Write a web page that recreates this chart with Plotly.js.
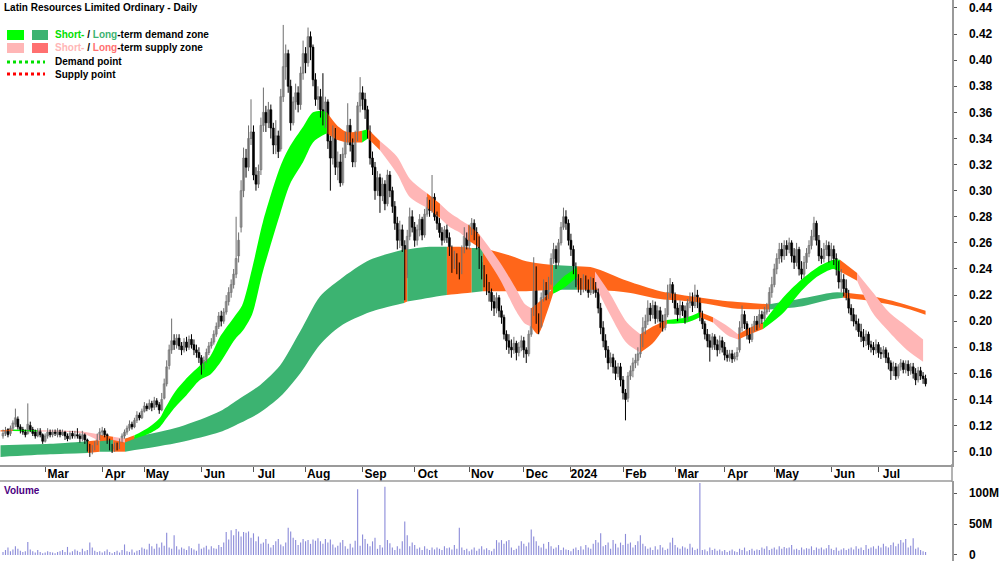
<!DOCTYPE html>
<html><head><meta charset="utf-8">
<script src="https://cdn.plot.ly/plotly-3.0.1.min.js"></script>
<style>html,body{margin:0;padding:0;background:#fff}#chart{width:1000px;height:562px}</style>
</head><body><div id="chart"></div>
<script>
// ---- daily prices (AUD), Feb 2023 .. Jul 2024 ----
const openP=[0.112,0.114,0.117,0.114,0.118,0.121,0.125,0.119,0.117,0.115,
0.114,0.120,0.117,0.115,0.112,0.116,0.113,0.108,0.112,0.115,
0.113,0.115,0.113,0.116,0.113,0.115,0.112,0.110,0.114,0.112,
0.113,0.112,0.110,0.113,0.109,0.104,0.100,0.102,0.106,0.111,
0.115,0.116,0.113,0.108,0.104,0.102,0.105,0.103,0.108,0.112,
0.115,0.118,0.121,0.119,0.124,0.128,0.126,0.131,0.135,0.133,
0.137,0.134,0.139,0.136,0.132,0.141,0.152,0.166,0.178,0.185,
0.182,0.187,0.181,0.178,0.184,0.180,0.186,0.182,0.178,0.176,
0.172,0.165,0.170,0.176,0.181,0.184,0.190,0.196,0.204,0.200,
0.207,0.215,0.222,0.228,0.236,0.250,0.272,0.300,0.325,0.318,
0.340,0.345,0.312,0.305,0.316,0.350,0.360,0.352,0.362,0.348,
0.335,0.342,0.332,0.372,0.395,0.405,0.380,0.352,0.368,0.375,
0.366,0.390,0.405,0.398,0.418,0.410,0.385,0.370,0.372,0.362,
0.355,0.368,0.338,0.325,0.345,0.318,0.322,0.306,0.328,0.340,
0.350,0.335,0.322,0.340,0.365,0.375,0.370,0.362,0.345,0.325,
0.318,0.300,0.310,0.296,0.305,0.290,0.312,0.300,0.288,0.275,
0.262,0.270,0.258,0.236,0.265,0.280,0.272,0.262,0.270,0.278,
0.266,0.282,0.290,0.285,0.295,0.280,0.275,0.268,0.262,0.270,
0.264,0.255,0.245,0.250,0.240,0.238,0.255,0.265,0.258,0.270,
0.275,0.268,0.262,0.245,0.240,0.232,0.225,0.222,0.215,0.210,
0.218,0.208,0.203,0.190,0.185,0.180,0.178,0.183,0.176,0.180,
0.185,0.178,0.175,0.190,0.205,0.240,0.200,0.196,0.218,0.225,
0.220,0.230,0.248,0.255,0.245,0.260,0.272,0.280,0.275,0.262,
0.255,0.240,0.232,0.228,0.225,0.232,0.228,0.222,0.230,0.226,
0.222,0.210,0.195,0.185,0.178,0.168,0.172,0.165,0.160,0.165,
0.155,0.145,0.141,0.158,0.162,0.168,0.170,0.175,0.185,0.195,
0.200,0.210,0.205,0.212,0.202,0.208,0.200,0.195,0.205,0.222,
0.228,0.218,0.210,0.205,0.212,0.208,0.202,0.214,0.218,0.212,
0.220,0.215,0.205,0.198,0.190,0.185,0.180,0.188,0.182,0.178,
0.185,0.180,0.174,0.172,0.175,0.171,0.173,0.178,0.195,0.205,
0.198,0.190,0.186,0.195,0.200,0.197,0.205,0.202,0.207,0.210,
0.222,0.228,0.240,0.248,0.255,0.250,0.258,0.255,0.260,0.250,
0.245,0.255,0.240,0.236,0.245,0.252,0.258,0.265,0.275,0.262,
0.250,0.248,0.255,0.258,0.250,0.255,0.248,0.240,0.230,0.232,
0.225,0.220,0.210,0.205,0.200,0.198,0.192,0.188,0.185,0.190,
0.182,0.180,0.178,0.182,0.176,0.175,0.178,0.172,0.168,0.162,
0.165,0.158,0.165,0.168,0.163,0.167,0.162,0.165,0.160,0.155,
0.162,0.158,0.156];
const highP=[0.117,0.119,0.118,0.120,0.124,0.133,0.127,0.121,0.119,0.117,
0.137,0.123,0.119,0.117,0.118,0.118,0.114,0.114,0.118,0.117,
0.117,0.117,0.118,0.117,0.117,0.116,0.114,0.116,0.116,0.116,
0.118,0.114,0.116,0.114,0.110,0.106,0.105,0.108,0.114,0.118,
0.119,0.118,0.114,0.110,0.106,0.107,0.107,0.110,0.114,0.117,
0.120,0.124,0.123,0.126,0.131,0.130,0.133,0.138,0.137,0.140,
0.139,0.142,0.141,0.138,0.145,0.156,0.170,0.182,0.202,0.190,
0.190,0.190,0.184,0.187,0.188,0.189,0.190,0.186,0.182,0.180,
0.174,0.173,0.179,0.184,0.187,0.193,0.199,0.207,0.208,0.210,
0.220,0.226,0.232,0.240,0.280,0.268,0.308,0.333,0.332,0.350,
0.370,0.350,0.318,0.320,0.356,0.379,0.365,0.368,0.366,0.352,
0.354,0.346,0.378,0.427,0.412,0.408,0.385,0.372,0.382,0.380,
0.395,0.415,0.410,0.425,0.422,0.412,0.390,0.380,0.378,0.390,
0.372,0.370,0.342,0.350,0.348,0.330,0.328,0.333,0.345,0.367,
0.355,0.340,0.346,0.368,0.387,0.380,0.375,0.365,0.350,0.330,
0.322,0.315,0.313,0.310,0.308,0.316,0.315,0.303,0.292,0.280,
0.277,0.274,0.262,0.270,0.287,0.285,0.276,0.274,0.282,0.280,
0.286,0.295,0.293,0.312,0.298,0.284,0.279,0.272,0.273,0.274,
0.268,0.258,0.254,0.252,0.245,0.258,0.272,0.268,0.274,0.279,
0.278,0.272,0.265,0.250,0.243,0.236,0.230,0.225,0.220,0.222,
0.220,0.212,0.205,0.193,0.190,0.186,0.188,0.185,0.184,0.189,
0.188,0.180,0.193,0.210,0.249,0.242,0.206,0.222,0.232,0.230,
0.234,0.252,0.260,0.258,0.263,0.276,0.287,0.285,0.278,0.267,
0.258,0.245,0.236,0.233,0.236,0.235,0.232,0.234,0.233,0.230,
0.225,0.214,0.200,0.190,0.181,0.176,0.175,0.170,0.168,0.168,
0.158,0.148,0.161,0.166,0.172,0.175,0.180,0.190,0.203,0.205,
0.216,0.214,0.216,0.215,0.212,0.211,0.205,0.210,0.228,0.233,
0.230,0.222,0.214,0.216,0.215,0.212,0.217,0.222,0.222,0.228,
0.224,0.218,0.208,0.200,0.194,0.190,0.191,0.190,0.186,0.189,
0.188,0.184,0.178,0.178,0.178,0.176,0.180,0.200,0.212,0.208,
0.200,0.195,0.198,0.204,0.204,0.209,0.208,0.211,0.214,0.226,
0.234,0.244,0.252,0.260,0.260,0.262,0.262,0.264,0.262,0.256,
0.260,0.257,0.246,0.250,0.256,0.262,0.270,0.280,0.277,0.266,
0.256,0.260,0.262,0.261,0.260,0.258,0.252,0.246,0.240,0.236,
0.232,0.224,0.213,0.210,0.205,0.202,0.198,0.194,0.193,0.192,
0.185,0.184,0.186,0.184,0.180,0.181,0.180,0.176,0.170,0.169,
0.168,0.167,0.171,0.170,0.170,0.170,0.168,0.168,0.164,0.165,
0.165,0.161,0.159];
const lowP=[0.110,0.112,0.111,0.112,0.116,0.119,0.117,0.114,0.113,0.111,
0.113,0.115,0.112,0.110,0.111,0.111,0.106,0.107,0.110,0.111,
0.111,0.112,0.111,0.111,0.112,0.109,0.108,0.109,0.110,0.110,
0.110,0.107,0.108,0.106,0.100,0.096,0.098,0.101,0.105,0.109,
0.112,0.111,0.106,0.101,0.099,0.100,0.101,0.102,0.107,0.110,
0.113,0.116,0.117,0.118,0.122,0.124,0.125,0.130,0.131,0.132,
0.131,0.132,0.134,0.129,0.131,0.140,0.150,0.163,0.175,0.178,
0.179,0.178,0.174,0.176,0.177,0.178,0.179,0.174,0.172,0.168,
0.159,0.163,0.168,0.174,0.179,0.182,0.188,0.194,0.196,0.198,
0.205,0.212,0.218,0.225,0.233,0.245,0.268,0.295,0.310,0.315,
0.335,0.308,0.300,0.302,0.312,0.345,0.345,0.348,0.340,0.328,
0.328,0.325,0.330,0.368,0.385,0.375,0.346,0.350,0.362,0.360,
0.362,0.385,0.390,0.395,0.400,0.380,0.365,0.362,0.356,0.350,
0.348,0.332,0.300,0.320,0.312,0.308,0.303,0.304,0.325,0.335,
0.330,0.318,0.318,0.338,0.360,0.362,0.355,0.340,0.320,0.312,
0.293,0.296,0.283,0.292,0.285,0.288,0.295,0.283,0.270,0.255,
0.256,0.253,0.216,0.233,0.262,0.268,0.257,0.258,0.265,0.262,
0.264,0.280,0.280,0.283,0.277,0.270,0.264,0.258,0.260,0.260,
0.250,0.237,0.240,0.236,0.232,0.236,0.252,0.255,0.255,0.266,
0.262,0.255,0.240,0.232,0.226,0.220,0.215,0.208,0.204,0.206,
0.203,0.198,0.186,0.178,0.175,0.172,0.175,0.170,0.173,0.177,
0.172,0.168,0.173,0.188,0.204,0.198,0.190,0.195,0.215,0.216,
0.217,0.228,0.244,0.240,0.242,0.258,0.270,0.270,0.258,0.250,
0.236,0.226,0.222,0.220,0.222,0.223,0.218,0.220,0.221,0.218,
0.206,0.190,0.180,0.172,0.163,0.165,0.160,0.155,0.157,0.150,
0.140,0.124,0.138,0.155,0.157,0.164,0.166,0.172,0.180,0.190,
0.197,0.200,0.202,0.198,0.199,0.195,0.192,0.193,0.203,0.218,
0.214,0.205,0.200,0.202,0.204,0.198,0.200,0.210,0.207,0.210,
0.210,0.200,0.194,0.186,0.180,0.169,0.178,0.178,0.173,0.175,
0.176,0.170,0.169,0.169,0.168,0.169,0.170,0.176,0.192,0.194,
0.186,0.183,0.184,0.192,0.193,0.195,0.198,0.200,0.205,0.207,
0.218,0.226,0.236,0.244,0.245,0.247,0.250,0.252,0.245,0.240,
0.242,0.235,0.232,0.233,0.240,0.249,0.255,0.262,0.258,0.246,
0.244,0.245,0.250,0.245,0.246,0.243,0.235,0.225,0.222,0.219,
0.216,0.206,0.200,0.196,0.193,0.188,0.184,0.180,0.181,0.178,
0.176,0.174,0.175,0.172,0.171,0.172,0.168,0.163,0.155,0.158,
0.155,0.156,0.162,0.160,0.160,0.158,0.159,0.156,0.151,0.153,
0.155,0.152,0.150];
const closeP=[0.114,0.116,0.113,0.118,0.122,0.126,0.119,0.117,0.115,0.113,
0.121,0.117,0.114,0.112,0.116,0.113,0.108,0.112,0.115,0.113,
0.115,0.114,0.116,0.113,0.115,0.112,0.110,0.114,0.112,0.113,
0.112,0.110,0.113,0.109,0.104,0.101,0.102,0.106,0.111,0.115,
0.116,0.113,0.108,0.104,0.102,0.105,0.103,0.108,0.112,0.115,
0.118,0.121,0.119,0.124,0.128,0.126,0.131,0.135,0.133,0.137,
0.134,0.139,0.136,0.132,0.140,0.152,0.165,0.178,0.185,0.182,
0.187,0.181,0.178,0.184,0.180,0.186,0.182,0.178,0.176,0.172,
0.165,0.170,0.176,0.181,0.184,0.190,0.196,0.204,0.200,0.207,
0.215,0.222,0.228,0.236,0.248,0.262,0.300,0.325,0.318,0.340,
0.345,0.312,0.305,0.315,0.350,0.360,0.352,0.362,0.348,0.335,
0.342,0.330,0.372,0.395,0.405,0.380,0.352,0.368,0.375,0.366,
0.390,0.405,0.398,0.418,0.410,0.385,0.370,0.372,0.362,0.355,
0.368,0.338,0.325,0.345,0.318,0.322,0.306,0.328,0.340,0.350,
0.335,0.322,0.340,0.365,0.375,0.370,0.362,0.345,0.325,0.318,
0.300,0.310,0.296,0.305,0.290,0.312,0.300,0.288,0.275,0.262,
0.270,0.258,0.235,0.265,0.280,0.272,0.262,0.270,0.278,0.266,
0.282,0.290,0.285,0.295,0.280,0.275,0.268,0.262,0.270,0.264,
0.255,0.245,0.250,0.240,0.238,0.255,0.265,0.258,0.270,0.275,
0.268,0.262,0.245,0.240,0.232,0.225,0.222,0.215,0.210,0.218,
0.208,0.203,0.190,0.185,0.180,0.178,0.183,0.176,0.180,0.185,
0.178,0.175,0.190,0.205,0.240,0.200,0.196,0.218,0.225,0.220,
0.230,0.248,0.255,0.245,0.260,0.272,0.280,0.275,0.262,0.255,
0.240,0.232,0.228,0.225,0.232,0.228,0.222,0.230,0.226,0.222,
0.210,0.195,0.185,0.178,0.168,0.172,0.165,0.160,0.165,0.155,
0.145,0.140,0.158,0.162,0.168,0.170,0.175,0.185,0.195,0.200,
0.210,0.205,0.212,0.202,0.208,0.200,0.195,0.205,0.222,0.228,
0.218,0.210,0.205,0.212,0.208,0.202,0.214,0.218,0.212,0.220,
0.215,0.205,0.198,0.190,0.185,0.180,0.188,0.182,0.178,0.185,
0.180,0.174,0.172,0.175,0.171,0.173,0.176,0.195,0.205,0.198,
0.190,0.186,0.195,0.200,0.197,0.205,0.202,0.207,0.210,0.222,
0.228,0.240,0.248,0.255,0.250,0.258,0.255,0.260,0.250,0.245,
0.255,0.240,0.236,0.245,0.252,0.258,0.265,0.275,0.262,0.250,
0.248,0.255,0.258,0.250,0.255,0.248,0.240,0.230,0.232,0.225,
0.220,0.210,0.205,0.200,0.198,0.192,0.188,0.185,0.190,0.182,
0.180,0.178,0.182,0.176,0.175,0.178,0.172,0.168,0.162,0.165,
0.158,0.165,0.168,0.163,0.167,0.162,0.165,0.160,0.155,0.162,
0.158,0.156,0.152];
// daily volume, millions of shares
const volumeM=[5,8,12,6,9,14,10,7,5,6,
21,9,6,4,8,5,3,4,6,5,
4,3,5,6,8,5,13,4,6,9,
7,5,10,6,8,20,12,7,5,6,
4,6,9,5,3,5,7,4,8,17,
6,5,9,4,7,8,12,10,9,18,
14,10,18,12,20,15,36,12,10,32,
14,9,12,10,8,14,11,9,7,18,
10,12,15,9,14,11,10,16,13,20,
37,25,40,32,42,38,30,37,36,38,
28,35,22,30,18,20,26,18,12,16,
22,26,17,14,20,44,38,28,24,16,
20,26,22,24,18,25,23,27,22,18,
26,20,25,17,12,15,20,24,14,10,
18,12,23,106,15,33,26,18,14,22,
28,10,16,12,110,24,19,12,8,14,
10,22,54,32,14,20,16,10,12,8,
14,10,8,12,9,12,10,8,14,11,
12,9,16,10,44,12,8,10,6,9,
12,7,10,14,9,11,8,6,10,24,
20,24,18,22,24,12,8,10,15,22,
18,14,20,41,30,22,15,12,18,10,
21,14,10,12,16,8,12,9,8,6,
10,12,8,14,9,16,12,10,18,24,
20,35,14,16,20,10,24,18,12,20,
16,34,18,20,12,16,22,32,18,14,
10,12,8,14,9,16,12,8,10,20,
28,16,12,10,14,12,10,18,12,8,
10,116,8,9,6,12,8,10,7,9,
6,8,5,7,9,6,5,10,8,12,
6,8,10,7,9,8,12,10,14,8,
10,12,9,14,10,13,11,12,16,9,
10,8,12,9,11,10,14,8,12,10,
12,9,11,16,10,8,12,7,9,11,
8,10,12,9,14,10,12,8,16,10,
12,14,10,15,12,18,14,12,16,20,
14,18,24,20,26,12,15,27,10,12,
8,6,5];

// ---- month ticks (trading-day position of first session of month) ----
const monthTickIdx=[17,40,57,80,101,122,145,166,188,210,229,250,271,291,311,334,353];
const monthLabels=['Mar','Apr','May','Jun','Jul','Aug','Sep','Oct','Nov','Dec','2024','Feb','Mar','Apr','May','Jun','Jul'];
const priceTicks=[0.10,0.12,0.14,0.16,0.18,0.20,0.22,0.24,0.26,0.28,0.30,0.32,0.34,0.36,0.38,0.40,0.42,0.44];
const volTicks=[0,50,100];
const volTickText=['0','50M','100M'];

// ---- long-term zone edges ----
const ltIdx=[-1,19,34.3,39,44.4,49.2,71,87.5,95.6,103.6,111.7,119.8,127.8,135.9,148,161.7,163,172,179,184,189,193.5,205,211,221.8,231.5,238,251.6,265,278,294,309,321,334.7,338.7,348,361.7,372];
const ltTop=[0.105,0.106,0.108,0.109,0.110,0.110,0.119,0.131,0.141,0.151,0.166,0.192,0.219,0.232,0.247,0.255,0.255,0.257,0.257,0.257,0.256,0.256,0.250,0.246,0.243,0.242,0.241,0.231,0.223,0.219,0.215,0.213,0.217,0.222,0.222,0.220,0.214,0.208];
const ltBot=[0.096,0.098,0.099,0.100,0.100,0.100,0.107,0.115,0.122,0.130,0.142,0.160,0.182,0.196,0.207,0.214,0.215,0.218,0.220,0.221,0.222,0.223,0.223,0.223,0.224,0.224,0.224,0.222,0.217,0.215,0.210,0.209,0.211,0.217,0.218,0.216,0.211,0.205];
const ltZone='DDSDSDDDDDDDDDDSDDSSDSSSDSSSSSSDDDSSS';

// ---- short-term zone edges ----
const stIdx=[-1,4,14,32,39,44.4,49.2,53,59,63.3,65.3,69.4,73.4,79.4,83.5,87.5,93.5,96.4,100.4,104.8,111.7,115.7,121,125,128.6,130.6,134.7,138.7,144.8,147.2,152,158.9,164.1,171,176.2,180.2,184.2,187.5,192.3,200.4,206.5,210.5,213,215.7,219.4,221.8,226.6,231.5,238.7,244.8,251.6,257,262,267.7,275.8,281,286.3,292.3,296.4,301.2,306.5,314.5,321.4,328.2,334.7,337.5,344.4,350.8,357.7,364.5,371];
const stTop=[0.1165,0.117,0.1165,0.1155,0.113,0.1115,0.110,0.1125,0.119,0.126,0.133,0.146,0.155,0.166,0.173,0.188,0.204,0.212,0.240,0.276,0.318,0.334,0.349,0.360,0.361,0.360,0.350,0.345,0.346,0.347,0.338,0.326,0.309,0.298,0.290,0.283,0.278,0.274,0.266,0.245,0.226,0.213,0.210,0.214,0.220,0.226,0.235,0.241,0.238,0.221,0.199,0.190,0.196,0.201,0.203,0.207,0.203,0.196,0.190,0.195,0.199,0.218,0.231,0.241,0.247,0.247,0.237,0.222,0.206,0.196,0.186];
const stBot=[0.1155,0.1158,0.1155,0.114,0.108,0.109,0.107,0.110,0.114,0.119,0.124,0.134,0.142,0.155,0.159,0.168,0.186,0.192,0.205,0.238,0.282,0.305,0.322,0.337,0.342,0.344,0.339,0.337,0.337,0.340,0.331,0.313,0.295,0.287,0.279,0.272,0.268,0.262,0.256,0.232,0.209,0.198,0.196,0.190,0.207,0.221,0.226,0.234,0.228,0.205,0.183,0.176,0.183,0.198,0.199,0.203,0.199,0.189,0.186,0.190,0.194,0.206,0.222,0.234,0.240,0.238,0.231,0.206,0.191,0.178,0.169];
const stZone='OGPPOPOGGGGGGGGGGGGGGGGGGOOOGOPPPOPPPOPPPPOOOGGOPPPOOGGOPPOOGGGGGOPPPP';

const COL={ltD:'#3cb371',ltS:'#ff661a',stG:'#00ff00',stP:'#ffb6b6',stO:'#ff661a'};

const W=1000,H=562,plotRight=952;
const traces=[];
function addBand(idx,top,bot,zone,colorOf){
  let k=0;
  while(k<zone.length){
    const z=zone[k]; let j=k;
    while(j<zone.length&&zone[j]===z) j++;
    const xs=idx.slice(k,j+1);
    traces.push({type:'scatter',x:xs,y:bot.slice(k,j+1),mode:'lines',line:{width:0,shape:'spline',smoothing:0.8},hoverinfo:'skip',showlegend:false,xaxis:'x',yaxis:'y'});
    traces.push({type:'scatter',x:xs,y:top.slice(k,j+1),mode:'lines',fill:'tonexty',fillcolor:colorOf[z],line:{width:0,shape:'spline',smoothing:0.8},hoverinfo:'skip',showlegend:false,xaxis:'x',yaxis:'y'});
    k=j;
  }
}
addBand(ltIdx,ltTop,ltBot,ltZone,{D:COL.ltD,S:COL.ltS});
addBand(stIdx,stTop,stBot,stZone,{G:COL.stG,P:COL.stP,O:COL.stO});

// candles: wicks (lines) + bodies (bars), split by rising / falling day
const up={wx:[],wy:[],bx:[],bb:[],bh:[]}, dn={wx:[],wy:[],bx:[],bb:[],bh:[]};
closeP.forEach((c,i)=>{
  const o=openP[i], g=(c>=o)?up:dn;
  g.wx.push(i,i,null); g.wy.push(lowP[i],highP[i],null);
  g.bx.push(i); g.bb.push(Math.min(o,c)); g.bh.push(Math.max(Math.abs(c-o),0.0008));
});
traces.push({type:'scatter',mode:'lines',x:up.wx,y:up.wy,line:{color:'#6e6e6e',width:1},hoverinfo:'skip',showlegend:false,xaxis:'x',yaxis:'y'});
traces.push({type:'scatter',mode:'lines',x:dn.wx,y:dn.wy,line:{color:'#000000',width:1},hoverinfo:'skip',showlegend:false,xaxis:'x',yaxis:'y'});
traces.push({type:'bar',x:up.bx,y:up.bh,base:up.bb,width:0.8,marker:{color:'#bcbcbc',line:{color:'#6e6e6e',width:0.6}},hoverinfo:'skip',showlegend:false,xaxis:'x',yaxis:'y'});
traces.push({type:'bar',x:dn.bx,y:dn.bh,base:dn.bb,width:0.8,marker:{color:'#000000',line:{color:'#000000',width:0.6}},hoverinfo:'skip',showlegend:false,xaxis:'x',yaxis:'y'});

const dayIdx=closeP.map((_,i)=>i);
traces.push({type:'bar',x:dayIdx,y:volumeM,marker:{color:'#8c8cd9',line:{width:0}},width:0.45,showlegend:false,hoverinfo:'skip',xaxis:'x',yaxis:'y2'});

// paper coordinates are relative to the plot area (0..plotRight, 0..H)
function px(x){return x/plotRight;} function py(y){return 1-y/H;}
const fontBase='Liberation Sans, Arial, sans-serif';
const shapes=[
  {type:'rect',xref:'paper',yref:'paper',x0:px(7),x1:px(24),y0:py(40),y1:py(30),fillcolor:COL.stG,line:{width:0}},
  {type:'rect',xref:'paper',yref:'paper',x0:px(32),x1:px(48),y0:py(40),y1:py(30),fillcolor:COL.ltD,line:{width:0}},
  {type:'rect',xref:'paper',yref:'paper',x0:px(7),x1:px(24),y0:py(53),y1:py(43),fillcolor:COL.stP,line:{width:0}},
  {type:'rect',xref:'paper',yref:'paper',x0:px(32),x1:px(48),y0:py(53),y1:py(43),fillcolor:'#ff7070',line:{width:0}},
  {type:'line',xref:'paper',yref:'paper',x0:px(7),x1:px(45),y0:py(62),y1:py(62),line:{color:'#00e000',width:3,dash:'dot'}},
  {type:'line',xref:'paper',yref:'paper',x0:px(7),x1:px(45),y0:py(74),y1:py(74),line:{color:'#ff0000',width:3,dash:'dot'}},
  {type:'line',xref:'paper',yref:'paper',x0:0,x1:1,y0:py(481),y1:py(481),line:{color:'#9a9a9a',width:1.5}},
  {type:'line',xref:'paper',yref:'paper',x0:1,x1:1,y0:py(464),y1:py(482),line:{color:'#9a9a9a',width:1.5}}
];
const annotations=[
  {xref:'paper',yref:'paper',x:px(2),y:py(8),xanchor:'left',yanchor:'middle',showarrow:false,text:'Latin Resources Limited Ordinary - Daily',font:{family:fontBase,size:10,color:'#000',weight:'bold'}},
  {xref:'paper',yref:'paper',x:px(53),y:py(35),xanchor:'left',yanchor:'middle',showarrow:false,text:'<span style="color:#00e000">Short-</span> / <span style="color:#3cb371">Long</span>-term demand zone',font:{family:fontBase,size:10,color:'#000',weight:'bold'}},
  {xref:'paper',yref:'paper',x:px(53),y:py(48),xanchor:'left',yanchor:'middle',showarrow:false,text:'<span style="color:#ffb6b6">Short-</span> / <span style="color:#ff7070">Long</span>-term supply zone',font:{family:fontBase,size:10,color:'#000',weight:'bold'}},
  {xref:'paper',yref:'paper',x:px(53),y:py(62),xanchor:'left',yanchor:'middle',showarrow:false,text:'Demand point',font:{family:fontBase,size:10,color:'#000',weight:'bold'}},
  {xref:'paper',yref:'paper',x:px(53),y:py(74),xanchor:'left',yanchor:'middle',showarrow:false,text:'Supply point',font:{family:fontBase,size:10,color:'#000',weight:'bold'}},
  {xref:'paper',yref:'paper',x:px(2),y:py(490),xanchor:'left',yanchor:'middle',showarrow:false,text:'Volume',font:{family:fontBase,size:10,color:'#4b0082',weight:'bold'}}
];
const tickFont={family:fontBase,size:12,color:'#000',weight:'bold'};
const layout={
  width:W,height:H,margin:{l:0,r:W-plotRight,t:0,b:0},paper_bgcolor:'#fff',plot_bgcolor:'#fff',
  showlegend:false,dragmode:false,barmode:'overlay',
  xaxis:{domain:[0,1],range:[-1.21,382.66],tickmode:'array',tickvals:monthTickIdx,ticktext:monthLabels,
    ticks:'outside',ticklen:5,tickcolor:'#555',showline:true,linecolor:'#9a9a9a',linewidth:1.5,showgrid:false,zeroline:false,
    tickfont:tickFont,ticklabelshift:13,ticklabelstandoff:-8,anchor:'y',fixedrange:true},
  yaxis:{domain:[1-465/H,1],range:[0.0898,0.4461],side:'right',tickmode:'array',tickvals:priceTicks,tickformat:'.2f',
    ticks:'outside',ticklen:3,tickcolor:'#555',showline:true,linecolor:'#9a9a9a',linewidth:1.5,showgrid:false,zeroline:false,
    tickfont:tickFont,ticklabelstandoff:10,anchor:'x',fixedrange:true},
  yaxis2:{domain:[1-561/H,1-481/H],range:[-9.7,119.4],side:'right',tickmode:'array',tickvals:volTicks,ticktext:volTickText,
    ticks:'outside',ticklen:3,tickcolor:'#555',showline:true,linecolor:'#9a9a9a',linewidth:1.5,showgrid:false,zeroline:false,
    tickfont:tickFont,ticklabelstandoff:10,ticklabeloverflow:'allow',anchor:'x',fixedrange:true},
  shapes:shapes,annotations:annotations
};
Plotly.newPlot('chart',traces,layout,{staticPlot:true,displayModeBar:false});
</script></body></html>
